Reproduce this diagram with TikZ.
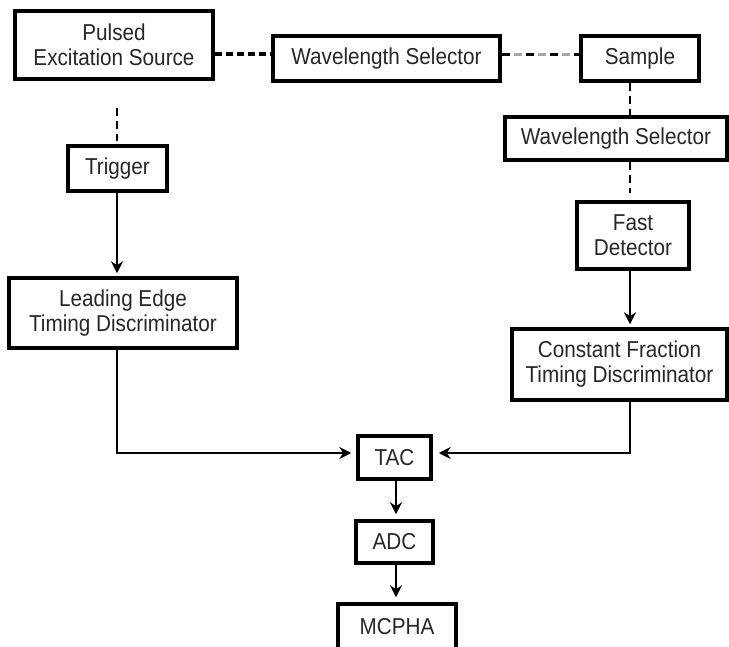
\documentclass[tikz,border=0pt]{standalone}
\usepackage{fontspec}
\setmainfont{Liberation Sans}[FakeStretch=0.9]
\usetikzlibrary{arrows.meta,calc}
\begin{document}
\begin{tikzpicture}[x=1pt,y=-1pt,
  blk/.style={draw, line width=3.5pt, inner sep=0pt, align=center,
    font=\fontsize{23}{25}\selectfont, text=black!85},
  conn/.style={line width=1.8pt},
  arr/.style={conn, -{Stealth[length=12pt,width=12pt,inset=4pt]}},
  thinDash/.style={line width=1.6pt, dash pattern=on 8pt off 5pt},
  thickDash/.style={line width=3.2pt, dash pattern=on 7pt off 4pt}
]
\useasboundingbox (0,0) rectangle (729,647);

\node[blk, minimum width=198pt, minimum height=68pt] (pes) at (114,45) {Pulsed\\Excitation Source};
\node[blk, minimum width=227pt, minimum height=45pt] (ws1) at (386.5,58.5) {Wavelength Selector};
\node[blk, minimum width=118pt, minimum height=45pt] (smp) at (640,58.5) {Sample};
\node[blk, minimum width=222pt, minimum height=43pt] (ws2) at (616,138.5) {Wavelength Selector};
\node[blk, minimum width=99pt, minimum height=45pt] (trg) at (117.5,168.5) {Trigger};
\node[blk, minimum width=112pt, minimum height=67pt] (fd) at (633,235.5) {Fast\\Detector};
\node[blk, minimum width=228pt, minimum height=70pt] (le) at (123,313) {Leading Edge\\Timing Discriminator};
\node[blk, minimum width=215pt, minimum height=71pt] (cf) at (619.5,364.5) {Constant Fraction\\Timing Discriminator};
\node[blk, minimum width=73pt, minimum height=43pt] (tac) at (394.5,457.5) {TAC};
\node[blk, minimum width=77pt, minimum height=42pt] (adc) at (394.5,542) {ADC};
\node[blk, minimum width=118pt, minimum height=46pt] (mc) at (397,627) {MCPHA};

\coordinate (yA) at (0,54);
\coordinate (yB) at (0,55);
\coordinate (xL) at (117,0);
\coordinate (xR) at (630,0);
\coordinate (xM) at (396,0);
\coordinate (yT) at (0,453);

% top optical path
\draw[thickDash] (pes.east |- yA) -- (ws1.west |- yA);
\draw[line width=3pt, black!35, dash pattern=on 8pt off 4pt] (ws1.east |- yB) -- (smp.west |- yB);
\draw[line width=3pt, black, dash pattern=on 8pt off 16pt] (ws1.east |- yB) -- (smp.west |- yB);
\draw[thinDash] (smp.south -| xR) -- (ws2.north -| xR);
\draw[thinDash, shorten >=7pt] (ws2.south -| xR) -- (fd.north -| xR);
\draw[thinDash, shorten <=27pt, shorten >=3pt] (pes.south -| xL) -- (trg.north -| xL);

% electronics
\draw[arr, shorten >=3pt] (trg.south -| xL) -- (le.north -| xL);
\draw[arr, shorten >=3pt] (fd.south -| xR) -- (cf.north -| xR);
\draw[arr, shorten >=5pt] (le.south -| xL) |- (tac.west |- yT);
\draw[arr, shorten >=6pt] (cf.south -| xR) |- (tac.east |- yT);
\draw[arr, shorten >=5pt] (tac.south -| xM) -- (adc.north -| xM);
\draw[arr, shorten >=5pt] (adc.south -| xM) -- (mc.north -| xM);
\end{tikzpicture}
\end{document}
